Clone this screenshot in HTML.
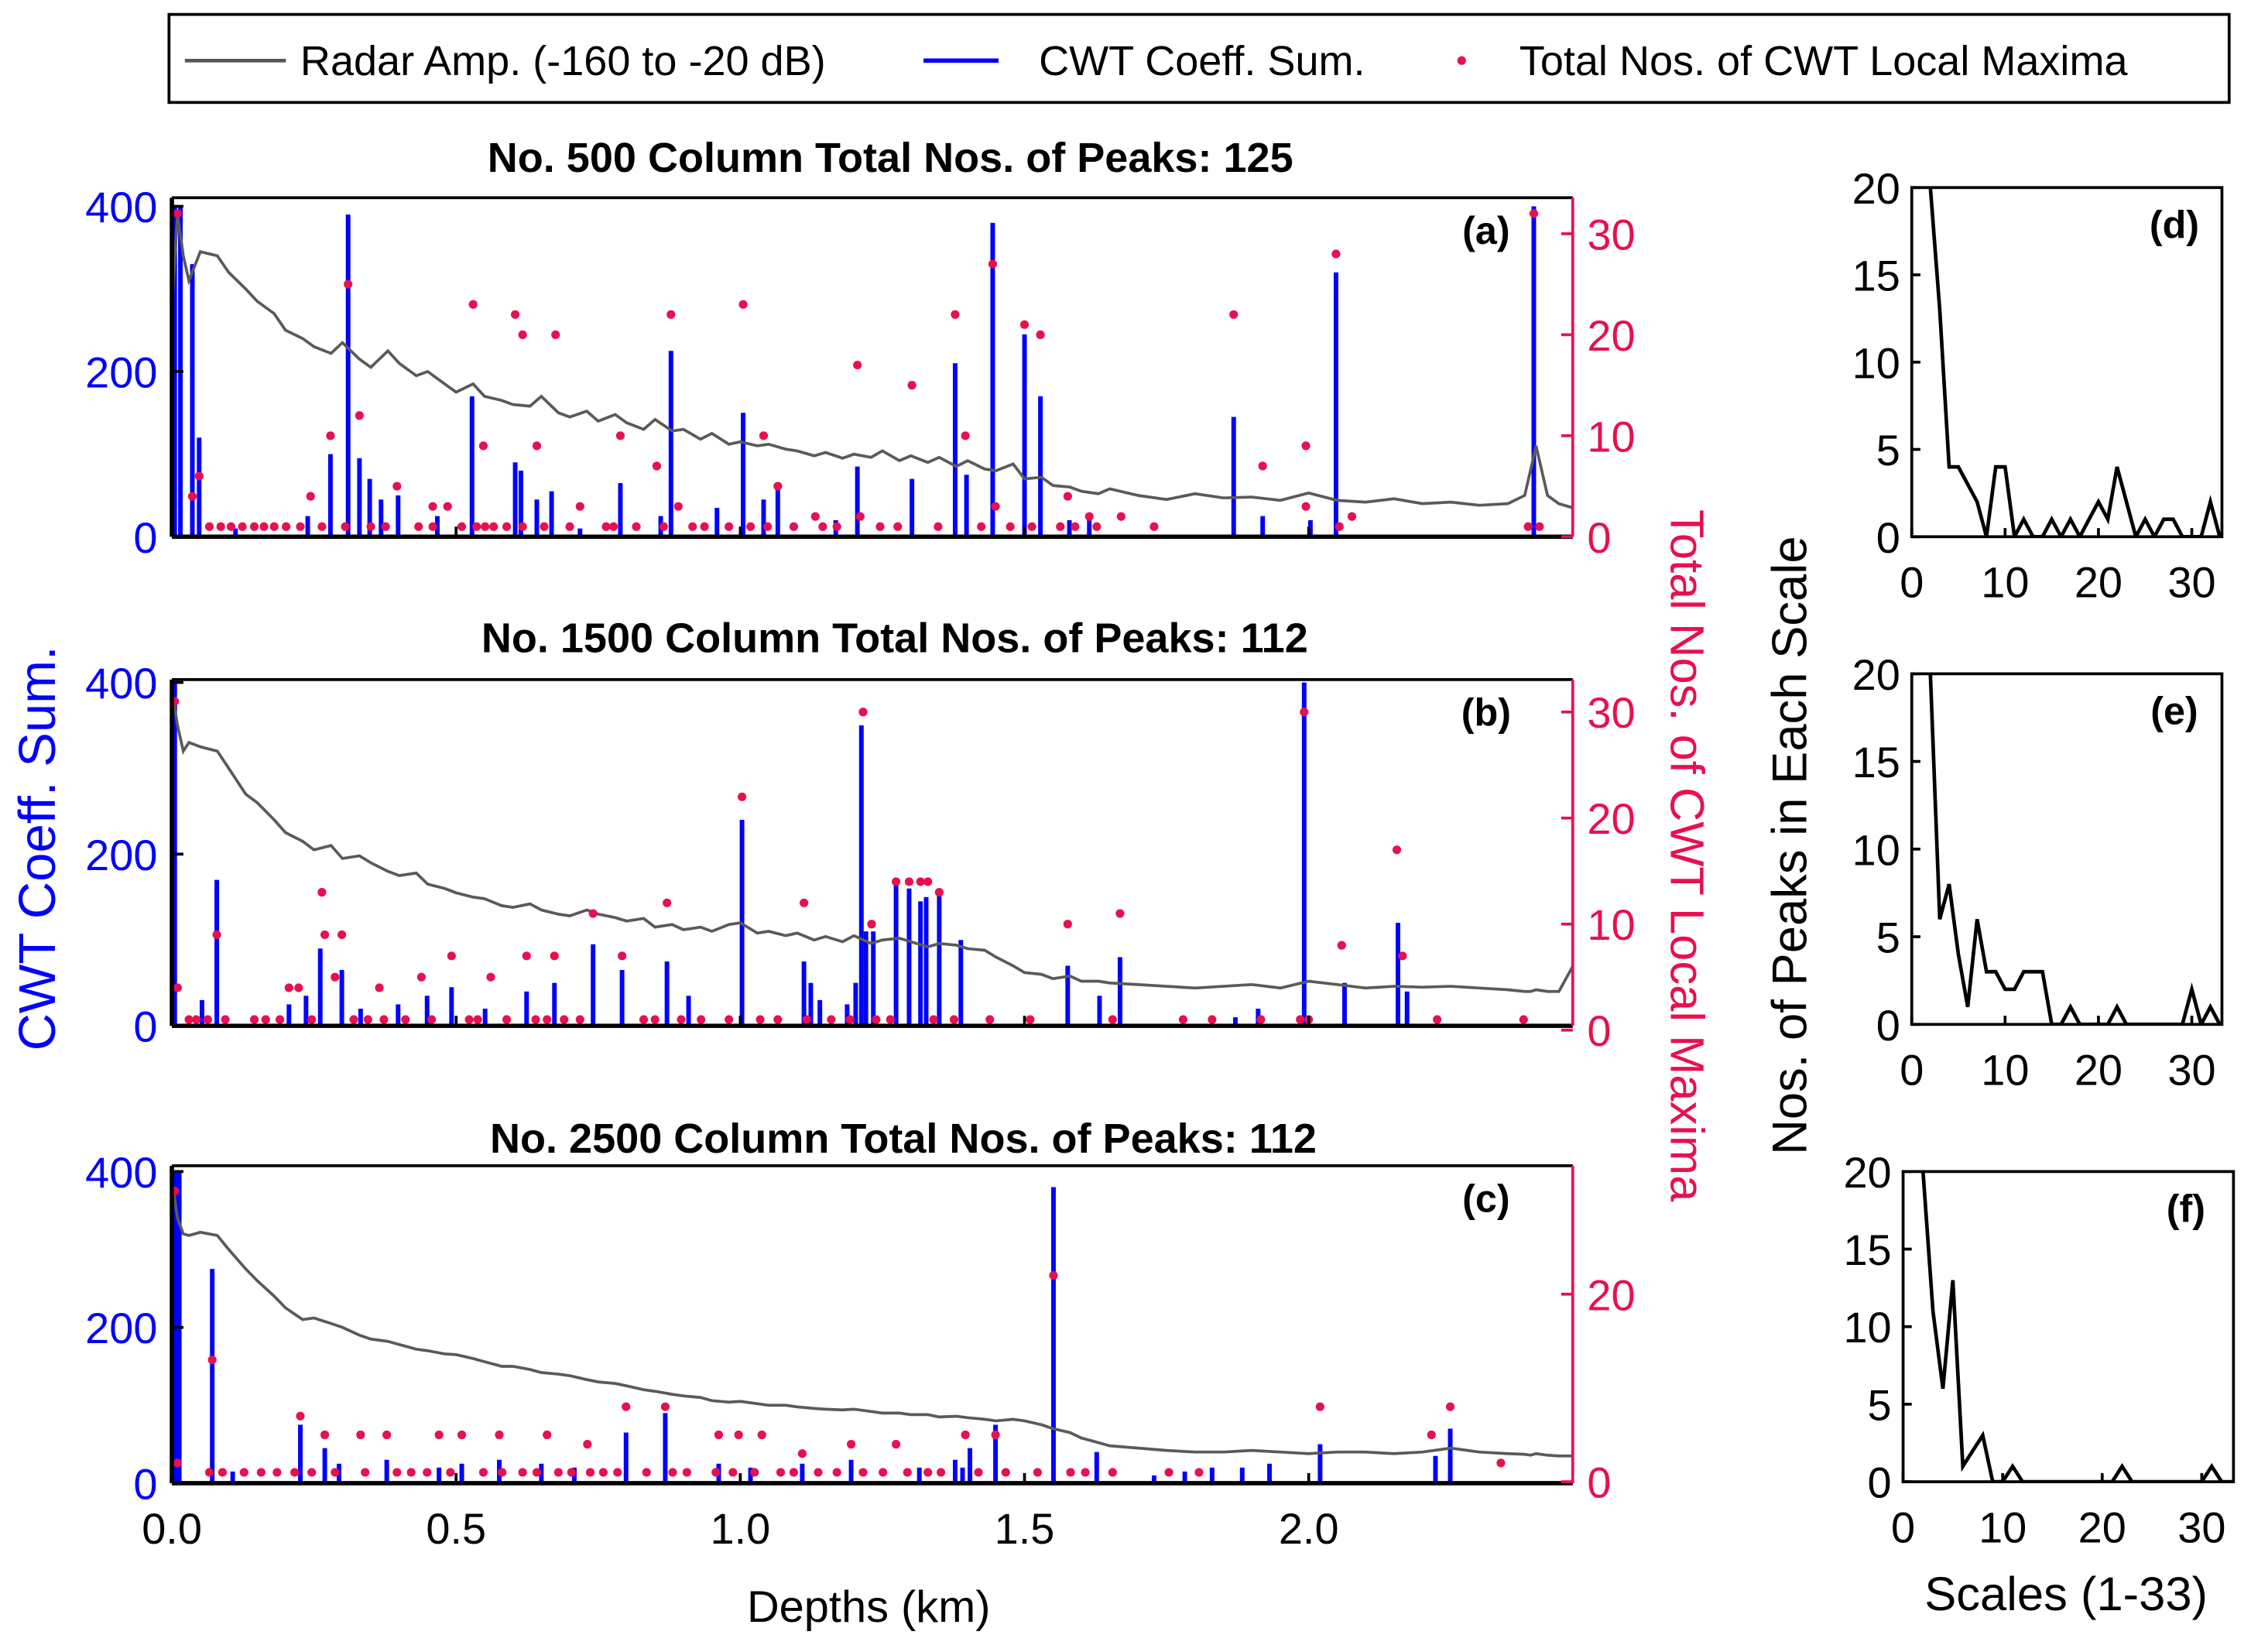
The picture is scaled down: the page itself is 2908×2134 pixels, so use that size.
<!DOCTYPE html>
<html><head><meta charset="utf-8"><style>
html,body{margin:0;padding:0;background:#fff}
svg{display:block;font-family:"Liberation Sans",Arial,sans-serif}
</style></head><body>
<svg id="fig" width="2908" height="2134" viewBox="0 0 1560 1145" xmlns="http://www.w3.org/2000/svg">
<g>
<rect x="117" y="10" width="1428" height="61" fill="#fff" stroke="#000" stroke-width="2"/>
<line x1="128" y1="42" x2="198" y2="42" stroke="#555" stroke-width="2.5"/>
<text x="208" y="52" font-size="29">Radar Amp. (-160 to -20 dB)</text>
<line x1="640" y1="42" x2="692" y2="42" stroke="#0000ff" stroke-width="3"/>
<text x="720" y="52" font-size="29">CWT Coeff. Sum.</text>
<circle cx="1013" cy="42" r="3" fill="#e8104f"/>
<text x="1053" y="52" font-size="29">Total Nos. of CWT Local Maxima</text>
</g>
<text x="617" y="119" font-size="29" font-weight="bold" text-anchor="middle">No. 500 Column  Total Nos. of Peaks: 125</text>
<text x="620" y="452" font-size="29" font-weight="bold" text-anchor="middle">No. 1500 Column Total Nos. of Peaks: 112</text>
<text x="626" y="799" font-size="29" font-weight="bold" text-anchor="middle">No. 2500 Column  Total Nos. of Peaks: 112</text>
<text transform="translate(38,588) rotate(-90)" font-size="36" fill="#0000ff" text-anchor="middle">CWT Coeff. Sum.</text>
<text transform="translate(1158,593) rotate(90)" font-size="33" fill="#e8104f" text-anchor="middle">Total Nos. of CWT Local Maxima</text>
<text transform="translate(1252,586) rotate(-90)" font-size="34" fill="#000" text-anchor="middle">Nos. of Peaks in Each Scale</text>
<text x="602" y="1124" font-size="31" text-anchor="middle">Depths (km)</text>
<text x="1432" y="1116" font-size="33" text-anchor="middle">Scales (1-33)</text>
</svg>
<script>
// ---------- data ----------
const xTicks = [0.0, 0.5, 1.0, 1.5, 2.0];
const xTickLabels = ["0.0", "0.5", "1.0", "1.5", "2.0"];
const leftTicks = [0, 200, 400];
const ampDepth = [0,0.01,0.02,0.03,0.05,0.08,0.1,0.13,0.15,0.18,0.2,0.23,0.25,0.28,0.3,0.33,0.35,0.38,0.4,0.43,0.45,0.48,0.5,0.53,0.55,0.58,0.6,0.63,0.65,0.68,0.7,0.73,0.75,0.78,0.8,0.83,0.85,0.88,0.9,0.93,0.95,0.98,1.0,1.03,1.05,1.08,1.1,1.13,1.15,1.18,1.2,1.23,1.25,1.28,1.3,1.33,1.35,1.38,1.4,1.43,1.45,1.48,1.5,1.53,1.55,1.58,1.6,1.63,1.65,1.7,1.75,1.8,1.85,1.9,1.95,2.0,2.05,2.1,2.15,2.2,2.25,2.3,2.35,2.38,2.39,2.4,2.42,2.44,2.465];
const ampA = [280,390,340,310,345,340,320,300,285,270,250,240,230,222,235,215,205,225,210,195,200,185,175,185,170,165,160,158,170,150,145,152,140,148,138,130,142,128,130,118,125,112,115,110,112,106,104,98,102,95,100,96,104,92,98,90,96,85,92,82,80,88,70,72,62,60,55,52,58,50,45,52,47,48,44,53,44,42,46,40,42,38,40,50,80,110,50,40,35];
const ampB = [390,350,320,330,325,320,300,270,260,240,225,215,205,210,195,198,190,180,175,178,165,160,155,150,148,140,138,142,135,130,128,135,130,126,122,125,115,118,112,115,110,118,120,108,110,105,108,100,104,98,105,96,100,102,98,92,96,94,90,88,80,70,62,60,55,58,52,52,50,48,46,44,46,48,44,52,48,44,46,45,46,44,42,40,40,42,40,40,70];
const ampC = [390,340,320,318,322,318,300,275,260,240,225,210,212,205,200,190,185,182,178,172,170,166,165,160,156,150,150,146,142,140,138,133,130,128,125,120,118,114,112,110,106,104,105,102,100,100,98,96,95,94,95,92,90,90,88,88,85,86,84,82,80,82,80,75,70,65,58,52,48,45,42,40,40,42,40,38,40,40,38,40,45,40,38,37,36,38,36,35,35];
const barDepthA = [0.005,0.015,0.036,0.048,0.112,0.239,0.279,0.310,0.330,0.348,0.368,0.398,0.467,0.528,0.604,0.614,0.642,0.668,0.718,0.789,0.860,0.878,0.959,1.005,1.041,1.066,1.168,1.206,1.302,1.378,1.398,1.444,1.500,1.528,1.579,1.614,1.868,1.919,2.003,2.048,2.396];
const barValA = [400,400,330,120,10,25,100,390,95,70,45,50,25,170,90,80,45,55,10,65,25,225,35,150,45,65,20,85,70,210,75,380,245,170,20,20,145,25,20,320,400];
const barDepthB = [0.005,0.053,0.079,0.206,0.236,0.261,0.299,0.332,0.398,0.449,0.492,0.551,0.624,0.673,0.741,0.792,0.871,0.909,1.003,1.112,1.124,1.140,1.188,1.203,1.213,1.221,1.234,1.274,1.297,1.317,1.327,1.350,1.388,1.576,1.632,1.668,1.871,1.911,1.992,2.063,2.157,2.173];
const barValB = [400,30,170,25,35,90,65,20,25,35,45,20,40,50,95,65,75,35,240,75,50,30,25,50,350,110,110,165,160,145,150,155,100,70,35,80,10,20,400,50,120,40];
const barDepthC = [0.003,0.008,0.013,0.071,0.107,0.226,0.269,0.294,0.378,0.470,0.510,0.576,0.650,0.708,0.799,0.868,0.962,1.018,1.109,1.195,1.315,1.378,1.391,1.404,1.449,1.551,1.627,1.728,1.782,1.830,1.883,1.931,2.020,2.223,2.249];
const barValC = [400,400,400,275,15,75,45,25,30,20,25,30,25,20,65,90,25,20,25,30,20,30,20,45,75,380,40,10,15,20,20,25,50,35,70];
const dotDepthA = [0.010,0.310,1.444,2.048,2.396,0.530,0.604,0.617,0.675,0.878,1.005,1.378,1.500,1.528,1.868,1.206,1.302,0.279,0.330,0.048,0.036,0.548,0.642,0.789,0.853,1.041,1.396,1.919,1.995,0.244,0.396,0.459,0.485,0.718,0.891,1.066,1.132,1.211,1.449,1.576,1.614,1.670,1.995,2.076,0.066,0.086,0.104,0.124,0.145,0.162,0.180,0.201,0.226,0.264,0.305,0.350,0.376,0.434,0.459,0.510,0.536,0.551,0.566,0.589,0.617,0.655,0.700,0.764,0.777,0.817,0.865,0.916,0.937,0.980,1.018,1.048,1.094,1.145,1.170,1.246,1.277,1.348,1.424,1.475,1.513,1.563,1.589,1.627,1.728,2.054,2.386,2.406];
const dotValA = [32,25,27,28,32,23,22,20,20,22,23,22,21,20,22,17,15,10,12,6,4,9,9,10,7,10,10,7,9,4,5,3,3,3,3,5,2,2,3,4,2,2,3,2,1,1,1,1,1,1,1,1,1,1,1,1,1,1,1,1,1,1,1,1,1,1,1,1,1,1,1,1,1,1,1,1,1,1,1,1,1,1,1,1,1,1,1,1,1,1,1,1];
const dotDepthB = [0.005,0.079,1.216,1.003,1.992,2.155,0.264,0.269,0.299,1.112,1.231,1.274,1.297,1.317,1.330,1.350,1.576,1.668,0.871,0.741,0.792,0.624,0.673,0.492,0.206,0.223,0.287,0.365,0.439,0.561,2.058,2.165,0.010,0.030,0.043,0.063,0.094,0.145,0.165,0.190,0.246,0.320,0.345,0.373,0.411,0.457,0.523,0.538,0.589,0.640,0.660,0.690,0.718,0.830,0.850,0.896,0.931,0.980,1.035,1.066,1.117,1.160,1.193,1.239,1.264,1.340,1.376,1.439,1.510,1.655,1.779,1.830,1.916,1.985,2.000,2.226,2.378];
const dotValB = [31,9,30,22,30,17,13,9,9,12,10,14,14,14,14,13,10,11,12,11,7,7,7,7,4,4,5,4,5,5,8,7,4,1,1,1,1,1,1,1,1,1,1,1,1,1,1,1,1,1,1,1,1,1,1,1,1,1,1,1,1,1,1,1,1,1,1,1,1,1,1,1,1,1,1,1,1];
const dotDepthC = [0.005,0.071,1.551,0.226,0.269,0.332,0.378,0.470,0.510,0.576,0.660,0.731,0.799,0.868,0.962,0.997,1.038,1.109,1.195,1.274,1.396,1.449,2.020,2.249,2.216,2.338,0.010,0.066,0.089,0.127,0.157,0.185,0.216,0.246,0.287,0.340,0.396,0.421,0.449,0.490,0.548,0.581,0.617,0.642,0.680,0.703,0.736,0.759,0.784,0.835,0.881,0.906,0.957,0.987,1.025,1.071,1.094,1.137,1.170,1.216,1.251,1.294,1.330,1.353,1.419,1.467,1.523,1.581,1.607,1.655,1.754,1.807];
const dotValC = [31,13,22,7,5,5,5,5,5,5,5,4,8,8,5,5,5,3,4,4,5,5,8,8,5,2,2,1,1,1,1,1,1,1,1,1,1,1,1,1,1,1,1,1,1,1,1,1,1,1,1,1,1,1,1,1,1,1,1,1,1,1,1,1,1,1,1,1,1,1,1,1];
const scaleIdx = [1,2,3,4,5,6,7,8,9,10,11,12,13,14,15,16,17,18,19,20,21,22,23,24,25,26,27,28,29,30,31,32,33];
const peaksD = [30,20,13,4,4,3,2,0,4,4,0,1,0,0,1,0,1,0,1,2,1,4,2,0,1,0,1,1,0,0,0,2,0];
const peaksE = [30,20,6,8,4,1,6,3,3,2,2,3,3,3,0,0,1,0,0,0,0,1,0,0,0,0,0,0,0,2,0,1,0];
const peaksF = [30,20,11,6,13,1,2,3,0,0,1,0,0,0,0,0,0,0,0,0,0,1,0,0,0,0,0,0,0,0,1,0,0];
const scaleTicks = [0,10,20,30];
const peakTicks = [0,5,10,15,20];

// ---------- drawing ----------
const NS = "http://www.w3.org/2000/svg";
const svg = document.getElementById("fig");
function mk(tag, attrs, parent) {
  const e = document.createElementNS(NS, tag);
  for (const k in attrs) e.setAttribute(k, attrs[k]);
  (parent || svg).appendChild(e);
  return e;
}
const X0 = 119, X1 = 1090, PXKM = 394;
const xs = d => X0 + d * PXKM;
const BLUE = "#0000ff", RED = "#e8104f";

const panels = [
  {id:"a", top:137, bot:372, y400:143, r0:372, rPer:7.0, rTicks:[0,10,20,30], amp:ampA, bd:barDepthA, bv:barValA, dd:dotDepthA, dv:dotValA},
  {id:"b", top:471, bot:711, y400:473, r0:714, rPer:7.35, rTicks:[0,10,20,30], amp:ampB, bd:barDepthB, bv:barValB, dd:dotDepthB, dv:dotValB},
  {id:"c", top:808, bot:1028, y400:812, r0:1027, rPer:6.5, rTicks:[0,20], amp:ampC, bd:barDepthC, bv:barValC, dd:dotDepthC, dv:dotValC}
];
panels.forEach(p => {
  const g = mk("g", {});
  
  
  const ys = v => p.bot - (Math.min(v, 400) / 400) * (p.bot - p.y400);
  const yr = v => p.r0 - v * p.rPer;
  mk("defs", {}, g).innerHTML = `<clipPath id="clip${p.id}"><rect x="${X0}" y="${p.top}" width="${X1-X0}" height="${p.bot-p.top}"/></clipPath>`;
  p.bd.forEach((d, i) => {
    const b = mk("rect", {x: xs(d) - 1.6, y: ys(p.bv[i]), width: 3.2, height: p.bot - ys(p.bv[i]), fill: BLUE}, g);
    
    
  });
  const pts = ampDepth.map((d, i) => xs(d).toFixed(1) + "," + ys(p.amp[i]).toFixed(1)).join(" ");
  const ln = mk("polyline", {points: pts, fill: "none", stroke: "#5a5a5a", "stroke-width": 2, "clip-path": `url(#clip${p.id})`}, g);
  
  
  p.dd.forEach((d, i) => {
    const c = mk("circle", {cx: xs(d), cy: yr(p.dv[i]), r: 3, fill: RED}, g);
    
    
  });
  mk("line", {x1: X0, y1: p.top, x2: X1, y2: p.top, stroke: "#000", "stroke-width": 2}, g);
  mk("line", {x1: X0, y1: p.bot, x2: X1, y2: p.bot, stroke: "#000", "stroke-width": 3}, g);
  mk("line", {x1: X0, y1: p.top, x2: X0, y2: p.bot, stroke: "#000", "stroke-width": 3}, g);
  mk("line", {x1: X1, y1: p.top, x2: X1, y2: p.bot, stroke: RED, "stroke-width": 2}, g);
  leftTicks.forEach(v => {
    mk("line", {x1: X0, y1: ys(v), x2: X0 + 8, y2: ys(v), stroke: "#000", "stroke-width": 2}, g);
    const t = mk("text", {x: X0 - 10, y: ys(v) + 11, "font-size": 30, fill: BLUE, "text-anchor": "end"}, g);
    t.textContent = String(v);
    
    
  });
  p.rTicks.forEach(v => {
    mk("line", {x1: X1 - 8, y1: yr(v), x2: X1, y2: yr(v), stroke: RED, "stroke-width": 2}, g);
    const t = mk("text", {x: X1 + 10, y: yr(v) + 11, "font-size": 30, fill: RED}, g);
    t.textContent = String(v);
    
    
  });
  xTicks.forEach(v => mk("line", {x1: xs(v), y1: p.bot, x2: xs(v), y2: p.bot - 7, stroke: "#000", "stroke-width": 2}, g));
  const lab = mk("text", {x: X1 - 60, y: p.top + 32, "font-size": 27, "font-weight": "bold", "text-anchor": "middle"}, g);
  lab.textContent = "(" + p.id + ")";
  
  
});
xTicks.forEach((v, i) => {
  const t = mk("text", {x: xs(v), y: 1070, "font-size": 30, "text-anchor": "middle"});
  t.textContent = xTickLabels[i];
  
  
});

const sPanels = [
  {id:"d", top:130, bot:372, x0:1325, per:6.47, right:1540, vals:peaksD},
  {id:"e", top:467, bot:710, x0:1325, per:6.47, right:1540, vals:peaksE},
  {id:"f", top:812, bot:1027, x0:1319, per:6.9, right:1548, vals:peaksF}
];
sPanels.forEach(p => {
  const g = mk("g", {});
  
  
  const sx = s => p.x0 + s * p.per;
  const sy = v => p.bot - v / 20 * (p.bot - p.top);
  mk("defs", {}, g).innerHTML = `<clipPath id="clip${p.id}"><rect x="${p.x0}" y="${p.top}" width="${p.right-p.x0}" height="${p.bot-p.top}"/></clipPath>`;
  const pts = scaleIdx.map((s, i) => sx(s).toFixed(1) + "," + sy(p.vals[i]).toFixed(1)).join(" ");
  const ln = mk("polyline", {points: pts, fill: "none", stroke: "#000", "stroke-width": 2.5, "clip-path": `url(#clip${p.id})`}, g);
  
  
  mk("rect", {x: p.x0, y: p.top, width: p.right - p.x0, height: p.bot - p.top, fill: "none", stroke: "#000", "stroke-width": 2}, g);
  peakTicks.forEach(v => {
    mk("line", {x1: p.x0, y1: sy(v), x2: p.x0 + 6, y2: sy(v), stroke: "#000", "stroke-width": 2}, g);
    const t = mk("text", {x: p.x0 - 8, y: sy(v) + 11, "font-size": 30, "text-anchor": "end"}, g);
    t.textContent = String(v);
    
    
  });
  scaleTicks.forEach(v => {
    mk("line", {x1: sx(v), y1: p.bot, x2: sx(v), y2: p.bot - 6, stroke: "#000", "stroke-width": 2}, g);
    const t = mk("text", {x: sx(v), y: p.bot + 42, "font-size": 30, "text-anchor": "middle"}, g);
    t.textContent = String(v);
    
    
  });
  const lab = mk("text", {x: p.right - 33, y: p.top + 35, "font-size": 27, "font-weight": "bold", "text-anchor": "middle"}, g);
  lab.textContent = "(" + p.id + ")";
  
  
});
</script>
</body></html>
